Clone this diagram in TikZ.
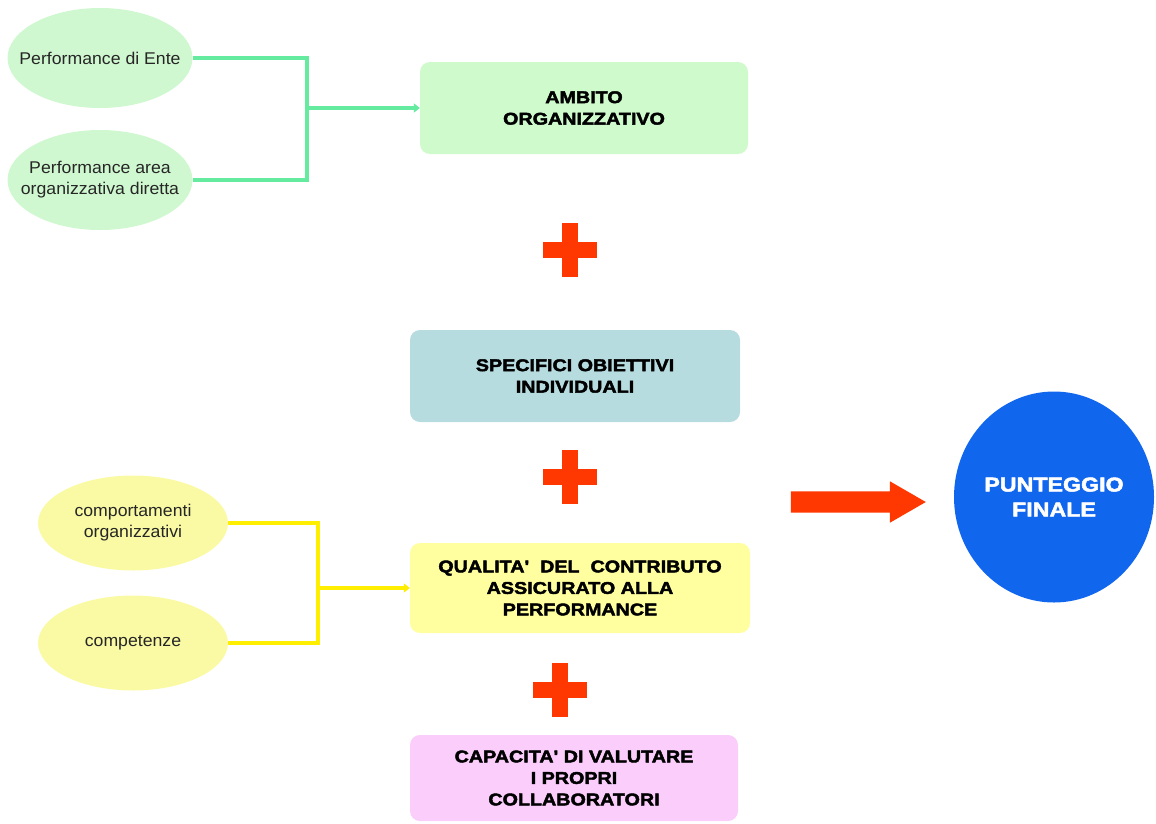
\documentclass[tikz,border=0pt]{standalone}
\usepackage{fontspec}
\setmainfont{Liberation Sans}
\newfontfamily\ellfont[FakeStretch=1.04]{Liberation Sans}
\newfontfamily\boxfont[FakeStretch=1.16,BoldFeatures={FakeBold=2.5}]{Liberation Sans}
\usetikzlibrary{shapes.geometric,shapes.arrows,arrows.meta}
\definecolor{lgreen}{RGB}{100,235,160}
\definecolor{egreen}{RGB}{208,248,208}
\definecolor{bgreen}{RGB}{206,250,204}
\definecolor{specblue}{RGB}{183,220,224}
\definecolor{eyellow}{RGB}{250,250,165}
\definecolor{byellow}{RGB}{255,255,160}
\definecolor{yline}{RGB}{255,238,0}
\definecolor{bpink}{RGB}{250,205,250}
\definecolor{pred}{RGB}{255,55,0}
\definecolor{cblue}{RGB}{17,102,238}
\begin{document}
\begin{tikzpicture}[x=1pt,y=-1pt,
  ell/.style={ellipse, minimum width=185pt, minimum height=100pt, inner sep=0pt},
  elltext/.style={align=center, font=\ellfont\fontsize{17}{21}\selectfont, text=black!85},
  rbox/.style={rounded corners=10pt, minimum width=328pt, minimum height=92pt, inner sep=0pt,
    align=center, font=\boxfont\bfseries\fontsize{17}{21.5}\selectfont},
  gline/.style={draw=lgreen, line width=4pt},
  yline/.style={draw=yline, line width=4pt},
  plussign/.pic={\fill[pred] (-27,-8) rectangle (27,8); \fill[pred] (-8,-27) rectangle (8,27);},
  bigarrow/.style={single arrow, fill=pred, minimum height=135pt, minimum width=41pt,
    inner xsep=0pt, inner ysep=10.5pt, single arrow head extend=10pt, single arrow tip angle=60},
]
\useasboundingbox (0,0) rectangle (1156,823);

% left ellipses
\node[ell, fill=egreen, label={[elltext]center:Performance di Ente}] (e1) at (100,58) {};
\node[ell, fill=egreen, label={[elltext]center:Performance area\\organizzativa diretta}] (e2) at (100,180) {};
\node[ell, fill=eyellow, minimum width=190pt, minimum height=95pt,
  label={[elltext]center:comportamenti\\organizzativi}] (e3) at (133,523) {};
\node[ell, fill=eyellow, minimum width=190pt, minimum height=95pt,
  label={[elltext]center:competenze}] (e4) at (133,643) {};

% central boxes
\node[rbox, fill=bgreen] (amb) at (584,108) {AMBITO\\ORGANIZZATIVO};
\node[rbox, fill=specblue, minimum width=330pt] (spec) at (575,376) {SPECIFICI OBIETTIVI\\INDIVIDUALI};
\node[rbox, fill=byellow, minimum width=340pt, minimum height=90pt] (qual) at (580,588) {QUALITA'\ \ DEL\ \ CONTRIBUTO\\ASSICURATO ALLA\\PERFORMANCE};
\node[rbox, fill=bpink, minimum height=86pt] (cap) at (574,778) {CAPACITA' DI VALUTARE\\I PROPRI\\COLLABORATORI};

% plus signs
\pic at (570,250) {plussign};
\pic at (570,477) {plussign};
\pic at (560,690) {plussign};

% green connector
\coordinate (gj) at (307,108);
\draw[gline] (e1.east) -| (gj) |- (e2.east);
\draw[gline, -{Triangle[length=6pt,width=9pt]}] (gj) -- (amb.west);

% yellow connector
\coordinate (yj) at (318,588);
\draw[yline] (e3.east) -| (yj) |- (e4.east);
\draw[yline, -{Triangle[length=6pt,width=9pt]}] (yj) -- (qual.west);

% big arrow and final circle
\node[bigarrow] (arr) at (849,502) {};
\node[ellipse, fill=cblue, minimum width=200pt, minimum height=211pt, inner sep=0pt, align=center,
  text=white, font=\boxfont\bfseries\fontsize{20}{25}\selectfont] (fin) at (1054,497) {PUNTEGGIO\\FINALE};
\end{tikzpicture}
\end{document}
